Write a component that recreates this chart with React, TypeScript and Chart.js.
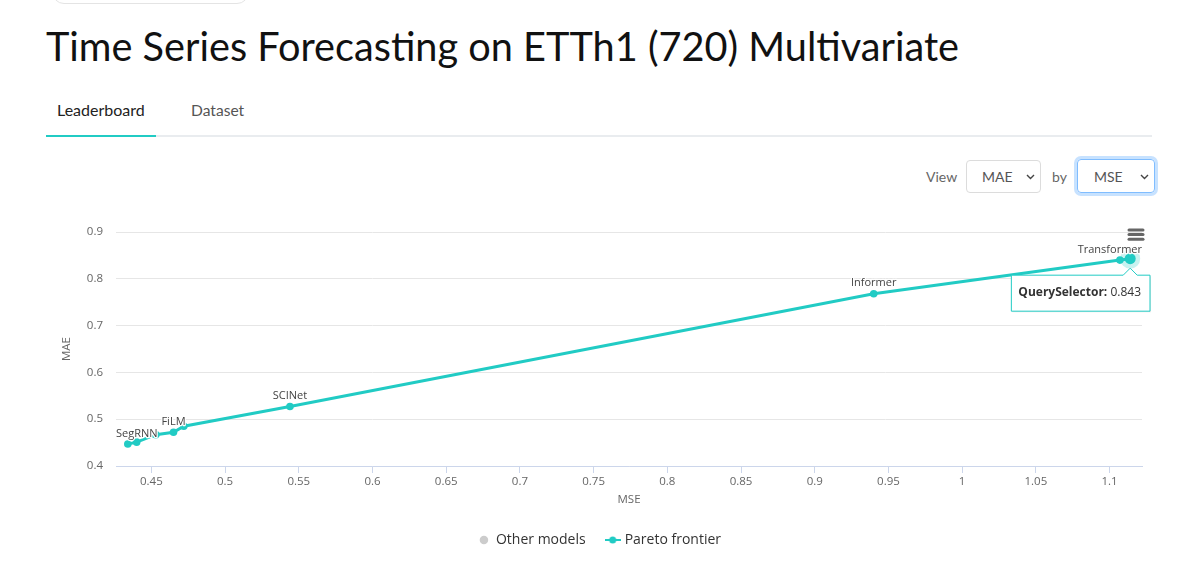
import React, { useEffect, useRef } from "react";
import { Chart, registerables } from "chart.js";

Chart.register(...registerables);

// Pareto frontier models, ordered by MSE
const FRONTIER_MSE = [0.434, 0.44, 0.453, 0.465, 0.472, 0.544, 0.94, 1.107, 1.114];
const FRONTIER_MAE = [0.447, 0.451, 0.467, 0.472, 0.485, 0.527, 0.768, 0.84, 0.843];
const FRONTIER_LABELS = ["SegRNN", "", "", "FiLM", "", "SCINet", "Informer", "Transformer", ""];

// Models off the frontier (none fall inside the plotted range)
const OTHER_MSE: number[] = [];
const OTHER_MAE: number[] = [];

const HIGHLIGHT_INDEX = 8;
const HIGHLIGHT_MODEL = "QuerySelector";

const X_TICKS = [0.45, 0.5, 0.55, 0.6, 0.65, 0.7, 0.75, 0.8, 0.85, 0.9, 0.95, 1, 1.05, 1.1];
const X_TICK_LABELS = ["0.45", "0.5", "0.55", "0.6", "0.65", "0.7", "0.75", "0.8", "0.85", "0.9", "0.95", "1", "1.05", "1.1"];
const Y_TICKS = [0.4, 0.5, 0.6, 0.7, 0.8, 0.9];
const Y_TICK_LABELS = ["0.4", "0.5", "0.6", "0.7", "0.8", "0.9"];
const X_RANGE = [0.426, 1.122];
const Y_RANGE = [0.4, 0.9];

const TEAL = "#21cbc4";
const GREY = "#cccccc";
const CHART_FONT = '"Open Sans", "Noto Sans", sans-serif';

function makeFrontierIcon(): HTMLCanvasElement {
  const c = document.createElement("canvas");
  c.width = 16;
  c.height = 8;
  const g = c.getContext("2d")!;
  g.strokeStyle = TEAL;
  g.lineWidth = 2;
  g.beginPath();
  g.moveTo(0, 4);
  g.lineTo(16, 4);
  g.stroke();
  g.fillStyle = TEAL;
  g.beginPath();
  g.arc(8, 4, 3.5, 0, Math.PI * 2);
  g.fill();
  return c;
}

// Data labels, hover halo, tooltip, menu icon and axis titles
const decorations = {
  id: "decorations",
  beforeDatasetsDraw(chart: any) {
    const pt = chart.getDatasetMeta(1).data[HIGHLIGHT_INDEX];
    if (!pt) return;
    const ctx = chart.ctx;
    ctx.save();
    ctx.fillStyle = "rgba(33,203,196,0.25)";
    ctx.beginPath();
    ctx.arc(pt.x, pt.y, 10, 0, Math.PI * 2);
    ctx.fill();
    ctx.restore();
  },
  afterDatasetsDraw(chart: any) {
    const ctx = chart.ctx;
    const area = chart.chartArea;
    const meta = chart.getDatasetMeta(1);
    ctx.save();
    ctx.font = `11px ${CHART_FONT}`;
    ctx.textBaseline = "middle";
    ctx.textAlign = "left";
    ctx.lineJoin = "round";
    FRONTIER_LABELS.forEach((label, i) => {
      if (!label) return;
      const p = meta.data[i];
      const w = ctx.measureText(label).width;
      let x = p.x - w / 2;
      x = Math.max(area.left, Math.min(area.right - w, x));
      const y = p.y - 10.5;
      ctx.strokeStyle = "#ffffff";
      ctx.lineWidth = 2.5;
      ctx.strokeText(label, x, y);
      ctx.fillStyle = "#444444";
      ctx.fillText(label, x, y);
    });
    ctx.restore();
  },
  afterDraw(chart: any) {
    const ctx = chart.ctx;
    const area = chart.chartArea;

    // axis titles
    ctx.save();
    ctx.fillStyle = "#666666";
    ctx.font = `11.5px ${CHART_FONT}`;
    ctx.textAlign = "center";
    ctx.textBaseline = "middle";
    ctx.fillText("MSE", (area.left + area.right) / 2, area.bottom + 34);
    ctx.translate(area.left - 49, (area.top + area.bottom) / 2);
    ctx.rotate(-Math.PI / 2);
    ctx.fillText("MAE", 0, 0);
    ctx.restore();

    // context menu icon
    ctx.save();
    ctx.strokeStyle = "#666666";
    ctx.lineWidth = 3;
    ctx.lineCap = "round";
    [0, 4.6, 9.2].forEach((dy) => {
      ctx.beginPath();
      ctx.moveTo(area.right - 13, area.top - 2 + dy);
      ctx.lineTo(area.right + 1, area.top - 2 + dy);
      ctx.stroke();
    });
    ctx.restore();

    // tooltip for the highlighted model
    const pt = chart.getDatasetMeta(1).data[HIGHLIGHT_INDEX];
    if (!pt) return;
    const name = `${HIGHLIGHT_MODEL}:`;
    const val = ` ${FRONTIER_MAE[HIGHLIGHT_INDEX].toFixed(3)}`;
    ctx.save();
    ctx.font = `bold 12px ${CHART_FONT}`;
    const nameW = ctx.measureText(name).width;
    ctx.font = `12px ${CHART_FONT}`;
    const valW = ctx.measureText(val).width;
    const w = nameW + valW + 16;
    const h = 36;
    const right = area.right + 8;
    const left = right - w;
    const top = pt.y + 16.5;
    const path = () => {
      ctx.beginPath();
      ctx.moveTo(left, top);
      ctx.lineTo(pt.x - 7, top);
      ctx.lineTo(pt.x, top - 7);
      ctx.lineTo(pt.x + 7, top);
      ctx.lineTo(right, top);
      ctx.lineTo(right, top + h);
      ctx.lineTo(left, top + h);
      ctx.closePath();
    };
    ctx.save();
    ctx.translate(1, 1);
    path();
    ctx.fillStyle = "rgba(0,0,0,0.08)";
    ctx.fill();
    ctx.restore();
    path();
    ctx.fillStyle = "#ffffff";
    ctx.fill();
    ctx.strokeStyle = TEAL;
    ctx.lineWidth = 1;
    ctx.stroke();
    ctx.fillStyle = "#333333";
    ctx.textBaseline = "alphabetic";
    ctx.textAlign = "left";
    ctx.font = `bold 12px ${CHART_FONT}`;
    ctx.fillText(name, left + 7, top + 21);
    ctx.font = `12px ${CHART_FONT}`;
    ctx.fillText(val, left + 7 + nameW, top + 21);
    ctx.restore();
  },
};

function ParetoChart() {
  const ref = useRef<HTMLCanvasElement | null>(null);
  useEffect(() => {
    if (!ref.current) return;
    const frontierIcon = makeFrontierIcon();
    const chart = new Chart(ref.current, {
      type: "scatter",
      data: {
        datasets: [
          {
            label: "Other models",
            data: OTHER_MSE.map((x, i) => ({ x, y: OTHER_MAE[i] })),
            backgroundColor: GREY,
            borderColor: GREY,
            pointRadius: 4,
          },
          {
            label: "Pareto frontier",
            data: FRONTIER_MSE.map((x, i) => ({ x, y: FRONTIER_MAE[i] })),
            showLine: true,
            borderColor: TEAL,
            backgroundColor: TEAL,
            borderWidth: 3,
            pointBorderWidth: 0,
            pointRadius: (c: any) => (c.dataIndex === HIGHLIGHT_INDEX ? 5.5 : 3.8),
          },
        ],
      },
      options: {
        animation: false,
        responsive: false,
        devicePixelRatio: 1,
        events: [],
        layout: { padding: { top: 32, left: 0, right: 0, bottom: 6 } },
        plugins: {
          tooltip: { enabled: false },
          legend: {
            position: "bottom",
            labels: {
              usePointStyle: true,
              boxWidth: 10,
              boxHeight: 6,
              padding: 22,
              color: "#333333",
              font: { family: CHART_FONT, size: 14 },
              generateLabels: (ch: any) => [
                {
                  text: ch.data.datasets[0].label,
                  fillStyle: GREY,
                  strokeStyle: GREY,
                  lineWidth: 0,
                  pointStyle: "circle",
                  fontColor: "#333333",
                  datasetIndex: 0,
                  hidden: false,
                },
                {
                  text: ch.data.datasets[1].label,
                  fillStyle: TEAL,
                  strokeStyle: TEAL,
                  lineWidth: 0,
                  pointStyle: frontierIcon,
                  fontColor: "#333333",
                  datasetIndex: 1,
                  hidden: false,
                },
              ],
            },
          },
        },
        scales: {
          x: {
            type: "linear",
            position: "bottom",
            min: X_RANGE[0],
            max: X_RANGE[1],
            afterBuildTicks: (s: any) => {
              s.ticks = X_TICKS.map((v) => ({ value: v }));
            },
            afterFit: (s: any) => {
              s.height = 45;
            },
            grid: { drawOnChartArea: false, drawTicks: true, tickLength: 7, color: "#ccd6eb" },
            border: { color: "#ccd6eb", width: 1 },
            ticks: {
              autoSkip: false,
              maxRotation: 0,
              padding: 2,
              color: "#666666",
              font: { family: CHART_FONT, size: 11.5 },
              callback: (_v: any, i: number) => X_TICK_LABELS[i],
            },
          },
          y: {
            type: "linear",
            position: "left",
            min: Y_RANGE[0],
            max: Y_RANGE[1],
            afterBuildTicks: (s: any) => {
              s.ticks = Y_TICKS.map((v) => ({ value: v }));
            },
            afterFit: (s: any) => {
              s.width = 116;
            },
            grid: { color: "#e6e6e6", drawTicks: false },
            border: { display: false },
            ticks: {
              padding: 13,
              color: "#666666",
              font: { family: CHART_FONT, size: 11.5 },
              callback: (_v: any, i: number) => Y_TICK_LABELS[i],
            },
          },
          yRight: {
            type: "linear",
            position: "right",
            display: true,
            grid: { display: false },
            border: { display: false },
            ticks: { display: false },
            afterFit: (s: any) => {
              s.width = 58;
            },
          },
        },
      } as any,
      plugins: [decorations],
    });
    return () => chart.destroy();
  }, []);
  return (
    <canvas
      ref={ref}
      width={1200}
      height={363}
      style={{ position: "absolute", left: 0, top: 200, width: 1200, height: 363 }}
    />
  );
}

function Chevron({ left, top }: { left: number; top: number }) {
  return (
    <svg width="9" height="6" viewBox="0 0 9 6" style={{ position: "absolute", left, top }}>
      <path d="M1 1 L4.5 4.5 L8 1" fill="none" stroke="#444" strokeWidth="1.4" />
    </svg>
  );
}

export default function App() {
  const ui = '"Lato", "Open Sans", sans-serif';
  return (
    <div
      style={{
        position: "fixed",
        left: 0,
        top: 0,
        width: 1200,
        height: 563,
        background: "#ffffff",
        overflow: "hidden",
        fontFamily: ui,
      }}
    >
      <div
        style={{
          position: "absolute",
          left: 52,
          top: -29,
          width: 195,
          height: 31,
          border: "1px solid #e4e4e4",
          borderRadius: 12,
        }}
      />
      <h1
        style={{
          position: "absolute",
          left: 46,
          top: 22,
          margin: 0,
          fontSize: 39.7,
          lineHeight: "48px",
          fontWeight: 400,
          color: "#111111",
          whiteSpace: "nowrap",
          fontFamily: ui,
        }}
      >
        Time Series Forecasting on ETTh1 (720) Multivariate
      </h1>

      <div style={{ position: "absolute", left: 46, top: 135, width: 1106, height: 2, background: "#e9ecef" }} />
      <div style={{ position: "absolute", left: 46, top: 135, width: 110, height: 2, background: TEAL }} />
      <div style={{ position: "absolute", left: 57, top: 100, fontSize: 16, lineHeight: "20px", color: "#222222" }}>
        Leaderboard
      </div>
      <div style={{ position: "absolute", left: 191, top: 100, fontSize: 15.6, lineHeight: "20px", color: "#555555" }}>
        Dataset
      </div>

      <div style={{ position: "absolute", left: 926, top: 167, fontSize: 14, lineHeight: "20px", color: "#666666" }}>
        View
      </div>
      <div
        style={{
          position: "absolute",
          left: 966,
          top: 160,
          width: 75,
          height: 33,
          boxSizing: "border-box",
          border: "1px solid #dcdcdc",
          borderRadius: 4,
          fontSize: 14,
          color: "#555555",
        }}
      >
        <span style={{ position: "absolute", left: 15, top: 6, lineHeight: "20px" }}>MAE</span>
        <Chevron left={59} top={13} />
      </div>
      <div style={{ position: "absolute", left: 1052, top: 167, fontSize: 14, lineHeight: "20px", color: "#666666" }}>
        by
      </div>
      <div
        style={{
          position: "absolute",
          left: 1077,
          top: 159,
          width: 78,
          height: 34,
          boxSizing: "border-box",
          border: "1px solid #80bdff",
          boxShadow: "0 0 0 3px rgba(0,123,255,0.22)",
          borderRadius: 4,
          fontSize: 14,
          color: "#555555",
        }}
      >
        <span style={{ position: "absolute", left: 16, top: 7, lineHeight: "20px" }}>MSE</span>
        <Chevron left={62} top={14} />
      </div>

      <ParetoChart />
    </div>
  );
}
